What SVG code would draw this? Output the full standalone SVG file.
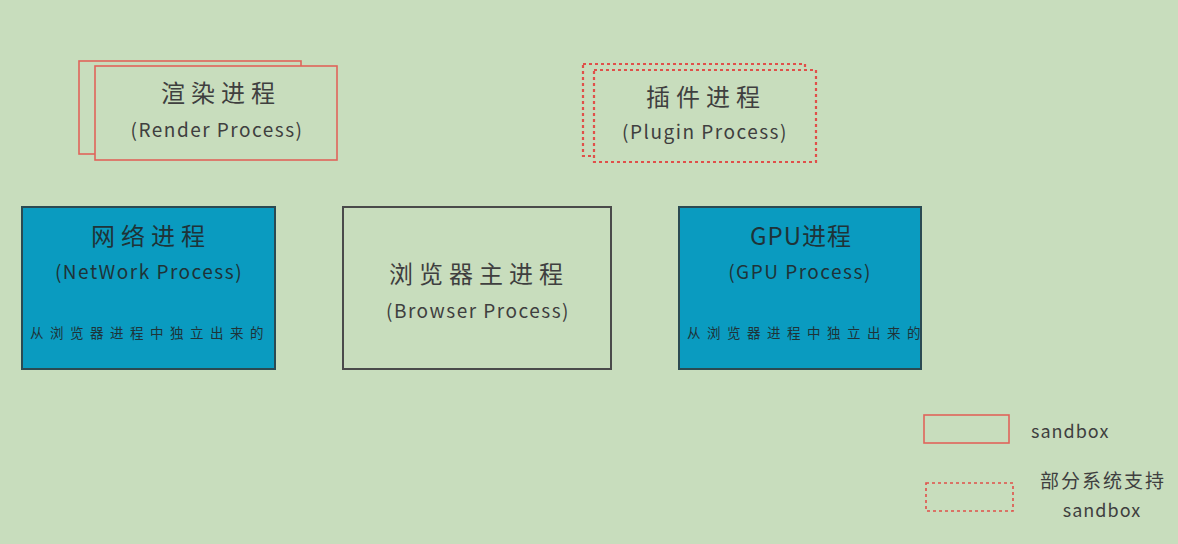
<svg xmlns="http://www.w3.org/2000/svg" width="1178" height="544" viewBox="0 0 1178 544">
<style>
.t{font-family:"Noto Sans CJK SC","Noto Sans",sans-serif;fill:#3f3f3f;text-anchor:middle}
.h{font-size:24px;letter-spacing:6px}
.e{font-size:19px;letter-spacing:1.5px}
.s{font-size:13.5px;letter-spacing:6.5px}
.red{fill:none;stroke:#e0645a;stroke-width:1.6}
.dot{fill:none;stroke:#e0504a;stroke-width:2.2;stroke-dasharray:3 3}
.bg{fill:#c8ddbd}
.blue{fill:#0a9bc0;stroke:#2b4a52;stroke-width:2}
.gray{fill:none;stroke:#4a4a4a;stroke-width:2}
</style>
<rect width="1178" height="544" fill="#c8ddbd"/>
<g id="render">
<rect class="red" x="79" y="61" width="222" height="93"/>
<rect class="red" x="95" y="66" width="242" height="94" style="fill:#c8ddbd"/>
<text class="t h" x="221" y="102">渲染进程</text>
<text class="t e" x="217" y="137">(Render Process)</text>
</g>
<g id="plugin">
<rect class="dot" x="583" y="64" width="222" height="92"/>
<rect class="dot" x="594" y="70" width="222" height="92" style="fill:#c8ddbd"/>
<text class="t h" x="706" y="106">插件进程</text>
<text class="t e" x="705" y="139">(Plugin Process)</text>
</g>
<g id="network">
<rect class="blue" x="22" y="207" width="253" height="162"/>
<text class="t h" x="151" y="245" style="fill:#1f3338">网络进程</text>
<text class="t e" x="149" y="279" style="fill:#1f3338">(NetWork Process)</text>
<text class="t s" x="150" y="338" style="fill:#1f3338">从浏览器进程中独立出来的</text>
</g>
<g id="browser">
<rect class="gray" x="343" y="207" width="268" height="162"/>
<text class="t h" x="479" y="283">浏览器主进程</text>
<text class="t e" x="478" y="318">(Browser Process)</text>
</g>
<g id="gpu">
<rect class="blue" x="679" y="207" width="242" height="162"/>
<text class="t h" x="801" y="245" style="fill:#1f3338;letter-spacing:1px">GPU进程</text>
<text class="t e" x="800" y="279" style="fill:#1f3338">(GPU Process)</text>
<text class="t s" x="807" y="338" style="fill:#1f3338">从浏览器进程中独立出来的</text>
</g>
<g id="legend">
<rect class="red" x="924" y="415" width="85" height="28"/>
<text class="t" x="1031" y="438" style="font-size:18px;letter-spacing:1px;text-anchor:start">sandbox</text>
<rect class="dot" x="926" y="483" width="87" height="28" style="stroke-width:1.6"/>
<text class="t" x="1103" y="488" style="font-size:19px;letter-spacing:2px">部分系统支持</text>
<text class="t" x="1102" y="517" style="font-size:18px;letter-spacing:1px">sandbox</text>
</g>
<g id="connectors"></g>
</svg>
